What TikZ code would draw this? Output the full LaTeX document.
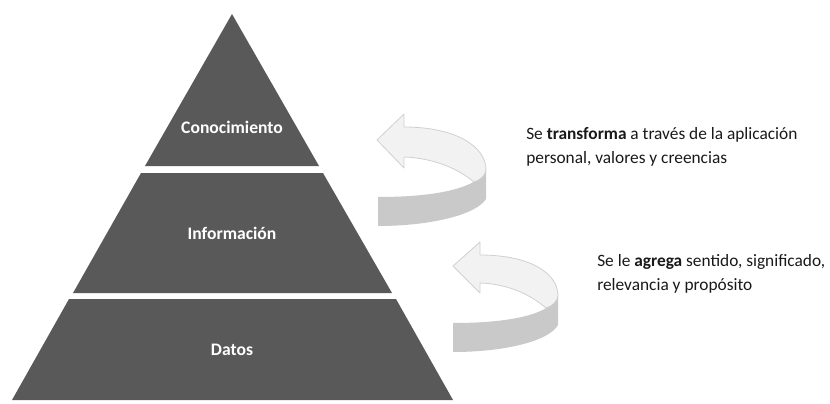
\documentclass[tikz,border=0pt]{standalone}
\usepackage{fontspec}
\setmainfont{Carlito}
\usepackage{tikz}
\definecolor{tiergray}{HTML}{595959}
\definecolor{arrowface}{HTML}{F2F2F2}
\definecolor{arrowedge}{HTML}{D0D0D0}
\definecolor{arrowback}{HTML}{C9C9C9}
\tikzset{tier/.style={fill=tiergray,draw=none},
    tierlabel/.style={text=white,font=\fontsize{13.2}{15}\selectfont\bfseries,inner sep=0.75pt},
    face/.style={fill=arrowface,draw=arrowedge,line width=0.6pt,line join=round},
    back/.style={fill=arrowback,draw=none},
    note/.style={anchor=base west,align=left,inner sep=0pt,text=black!90,font=\fontsize{13}{18}\selectfont}}

\begin{document}
\begin{tikzpicture}[x=0.75pt,y=0.75pt,yscale=-1,xscale=1]
\useasboundingbox (0,0) rectangle (830,403);

%Shape: Trapezoid [id:top]
\draw [tier]  (232,14) -- (319,166) -- (145,166) -- cycle ;
%Shape: Trapezoid [id:middle]
\draw [tier]  (141,173) -- (323,173) -- (392,293) -- (73,293) -- cycle ;
%Shape: Trapezoid [id:bottom]
\draw [tier]  (69,299) -- (396,299) -- (453,400) -- (12,400) -- cycle ;

%Curve Lines [id:upper back]
\draw [back]  (378,197) .. controls (430,197) and (476,190) .. (486,170) -- (486,199) .. controls (476,215) and (430,226) .. (378,226) -- cycle ;
%Curve Lines [id:upper face]
\draw [face]  (404,127) .. controls (455,127) and (486,146) .. (486,170) .. controls (485,176) and (480,180) .. (474,182) .. controls (460,170) and (435,158) .. (404,157) -- (404,168) -- (377,140) -- (404,114) -- cycle ;

%Curve Lines [id:lower back]
\draw [back]  (453,323) .. controls (505,323) and (549,316) .. (558,296) -- (558,325) .. controls (549,341) and (505,352) .. (453,352) -- cycle ;
%Curve Lines [id:lower face]
\draw [face]  (480,255) .. controls (530,255) and (558,273) .. (558,296) .. controls (557,302) and (552,306) .. (546,308) .. controls (532,296) and (510,284) .. (480,283) -- (480,293) -- (453,266) -- (480,242) -- cycle ;

% Text Node
\draw (232,127) node [tierlabel] (conoc) {Conocimiento};
% Text Node
\draw (232,233) node [tierlabel] (inform) {Información};
% Text Node
\draw (232,350) node [tierlabel] (datos) {Datos};
% Text Node
\draw (526,163) node [note] (transf) {Se \textbf{transforma} a través de la aplicación\\personal, valores y creencias};
% Text Node
\draw (597,290) node [note] (agrega) {Se le \textbf{agrega} sentido, significado,\\relevancia y propósito};

\end{tikzpicture}
\end{document}
